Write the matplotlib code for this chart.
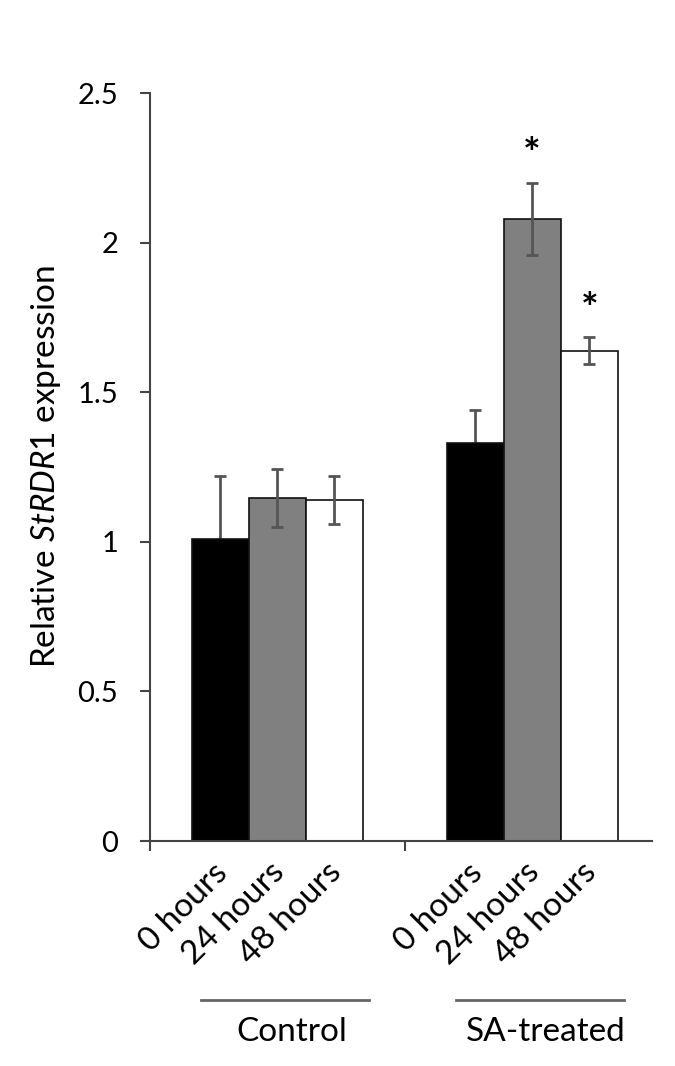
import matplotlib
matplotlib.use("Agg")
import matplotlib.pyplot as plt
import numpy as np

plt.rcParams['font.family'] = ['Lato', 'DejaVu Sans']
plt.rcParams['mathtext.fontset'] = 'custom'
plt.rcParams['mathtext.it'] = 'Lato:italic'
plt.rcParams['mathtext.rm'] = 'Lato'

# данные
groups = ["Control", "SA-treated"]
times = ["0 hours", "24 hours", "48 hours"]
values = {
    "0 hours": [1.01, 1.33],
    "24 hours": [1.146, 2.08],
    "48 hours": [1.14, 1.638],
}
errors = {
    "0 hours": [0.21, 0.11],
    "24 hours": [0.097, 0.12],
    "48 hours": [0.08, 0.045],
}
significant = {
    "0 hours": [False, False],
    "24 hours": [False, True],
    "48 hours": [False, True],
}
colors = ["#000000", "#808080", "#ffffff"]

fig = plt.figure(figsize=(6.75, 10.66), dpi=100)
ax = fig.add_axes([150 / 675, 1 - 841 / 1066, 502 / 675, 748 / 1066])

centers = np.arange(1, len(groups) + 1)
width = 0.224
for i, t in enumerate(times):
    xs = centers + (i - 1) * width
    ax.bar(xs, values[t], width=width, color=colors[i], edgecolor="#111111",
           linewidth=1.2, zorder=2)
    # у черных столбцов нижняя часть планки не видна
    ax.errorbar(xs, values[t], yerr=errors[t], fmt="none", ecolor="#555555",
                elinewidth=2, capsize=4.5, capthick=2,
                zorder=1 if i == 0 else 3)
    for x, v, e, s in zip(xs, values[t], errors[t], significant[t]):
        if s:
            ax.text(x, v + e + 0.025, "*", ha="center", va="bottom",
                    fontsize=30, fontweight="bold")
    # подписи столбцов
    for x in xs:
        ax.text(x + 0.01, -0.09, t, rotation=45, ha="right", va="center",
                rotation_mode="anchor", fontsize=24)

ax.set_xlim(0.5, 2.47)
ax.set_ylim(0, 2.5)
ax.set_xticks([0.5, 1.5])
ax.set_xticklabels([])
ax.set_yticks([0, 0.5, 1, 1.5, 2, 2.5])
ax.set_yticklabels(["0", "0.5", "1", "1.5", "2", "2.5"], fontsize=21)
ax.tick_params(axis="y", length=7, width=1.5, color="#444444", pad=16)
ax.tick_params(axis="x", length=7, width=1.5, color="#444444")
for side in ["top", "right"]:
    ax.spines[side].set_visible(False)
for side in ["left", "bottom"]:
    ax.spines[side].set_color("#444444")
    ax.spines[side].set_linewidth(1.5)

ax.set_ylabel(r"Relative $\mathit{StRDR1}$ expression", fontsize=24, labelpad=10)

# линии групп
trans = ax.get_xaxis_transform()
for c, g in zip(centers, groups):
    ax.plot([c - 0.3, c + 0.36], [-0.213, -0.213], color="#666666", lw=2,
            transform=trans, clip_on=False)
    ax.text(c + 0.055, -0.256, g, transform=trans, ha="center", va="center",
            fontsize=24)

fig.savefig("out.png", dpi=100)
